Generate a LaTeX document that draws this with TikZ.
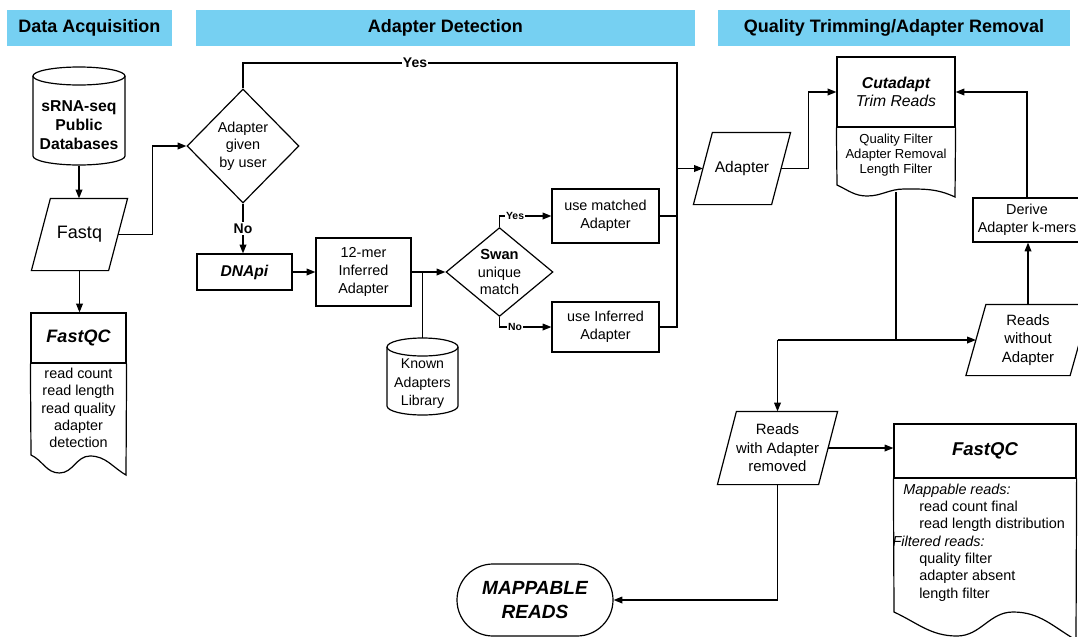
\documentclass[tikz,border=0pt]{standalone}
\usepackage{fontspec}
\setmainfont{Liberation Sans}
\usetikzlibrary{shapes.geometric,arrows.meta,calc}
\definecolor{hdrblue}{RGB}{118,208,242}
\newcommand{\myfs}[2]{\fontsize{#1}{#2}\selectfont}
\newcommand{\paraout}[2]{\draw ($(#1.north west)+(#2,0)$) -- ($(#1.north east)+(#2,0)$) -- ($(#1.south east)+(-#2,0)$) -- ($(#1.south west)+(-#2,0)$) -- cycle;}
\begin{document}
\begin{tikzpicture}[x=0.75pt,y=-0.75pt,line width=0.9pt,
 arr/.style={-{Triangle[length=6.5pt,width=5pt]}},
 hdr/.style={fill=hdrblue,inner sep=0,minimum height=27pt,font=\myfs{13.5}{16}\bfseries},
 proc/.style={draw,rectangle,inner sep=0,align=center,font=\myfs{10.8}{13.2}},
 decis/.style={draw,diamond,inner sep=0,align=center,font=\myfs{10.8}{13.2}},
 para/.style={rectangle,inner sep=0,align=center,font=\myfs{10.8}{13.9}},
 txt/.style={inner sep=0,align=center,font=\myfs{10.8}{13}},
 lbl/.style={fill=white,inner sep=1pt,font=\myfs{10.5}{12}\bfseries},
 slbl/.style={fill=white,inner sep=0.6pt,font=\myfs{7.8}{9}\bfseries}]
\useasboundingbox (0,0) rectangle (1078,636);
\clip (0,0) rectangle (1078,636);

% headers
\node[hdr,minimum width=123.75pt] (h1) at (89.5,28) {Data Acquisition};
\node[hdr,minimum width=374.25pt] (h2) at (445.5,28) {Adapter Detection};
\node[hdr,minimum width=264pt] (h3) at (894,28) {Quality Trimming/Adapter Removal};

% database cylinder
\node[txt,minimum width=69pt,minimum height=60pt,font=\myfs{11.8}{14.25}\bfseries] (db) at (79,125) {sRNA-seq\\Public\\Databases};
\draw (33,76) -- (33,156) arc[start angle=180,end angle=360,x radius=34.5pt,y radius=6.75pt] -- (125,76);
\draw (79,76) ellipse[x radius=34.5pt,y radius=6.75pt];

% Fastq
\node[para,minimum width=57pt,minimum height=53.25pt,font=\myfs{13.5}{16}] (fq) at (79.5,234.5) {Fastq};
\paraout{fq}{9.5}

% FastQC left
\node[proc,minimum width=71.25pt,minimum height=37.5pt,font=\myfs{13.5}{16}\bfseries\itshape] (qc1) at (78.5,338) {FastQC};
\draw (qc1.south west) -- (31,455) to[out=-25,in=180] (59.5,473) to[out=0,in=180] (90,456) to[out=0,in=150] (126,475) -- (qc1.south east);
\node[txt] (qc1l) at (78.5,408) {read count\\read length\\read quality\\adapter\\detection};

% decision: adapter given
\node[decis,minimum width=84pt,minimum height=85.5pt] (given) at (243,146) {Adapter\\given\\by user};

% DNApi and 12-mer
\node[proc,minimum width=71.25pt,minimum height=27pt,font=\myfs{11.7}{14}\bfseries\itshape] (dnapi) at (244.5,272) {DNApi};
\node[proc,minimum width=71.25pt,minimum height=51pt] (mer) at (363.5,272) {12-mer\\Inferred\\Adapter};

% Swan
\node[decis,minimum width=80.25pt,minimum height=66pt] (swan) at (499.5,272) {{\myfs{11}{13.2}\bfseries Swan}\\unique\\match};

% matched / inferred
\node[proc,minimum width=80.25pt,minimum height=40.5pt] (match) at (605.5,216) {use matched\\Adapter};
\node[proc,minimum width=80.25pt,minimum height=37.5pt] (infer) at (605.5,327) {use Inferred\\Adapter};

% Known adapters cylinder
\node[txt,minimum width=53.25pt,minimum height=44.25pt,font=\myfs{10.6}{13.9}] (known) at (422.5,384) {Known\\Adapters\\Library};
\draw (387,347) -- (387,406) arc[start angle=180,end angle=360,x radius=26.625pt,y radius=6.75pt] -- (458,347);
\draw (422.5,347) ellipse[x radius=26.625pt,y radius=6.75pt];
\coordinate (kntop) at (422.5,338);

% Adapter
\node[para,minimum width=57.75pt,minimum height=53.25pt,font=\myfs{11.6}{14}] (adp) at (742,168.5) {Adapter};
\paraout{adp}{9.5}

% Cutadapt
\node[proc,minimum width=88.5pt,minimum height=52.5pt,font=\myfs{11.8}{13.5}\itshape] (cut) at (896,92) {\textbf{Cutadapt}\\Trim Reads};
\draw (cut.south west) -- (837,185) to[out=-25,in=180] (867,196) to[out=0,in=180] (904,189) to[out=0,in=155] (955,197) -- (cut.south east);
\node[txt,font=\myfs{9.8}{11.25}] (cutl) at (896,155) {Quality Filter\\Adapter Removal\\Length Filter};
\coordinate (cutb) at (896,192);

% Derive
\node[proc,minimum width=81pt,minimum height=33pt] (der) at (1027,220) {Derive\\Adapter k-mers};

% Reads without adapter
\node[para,minimum width=77.25pt,minimum height=52.5pt,font=\myfs{11.2}{13.9}] (rwo) at (1028,340) {Reads\\without\\Adapter};
\paraout{rwo}{10}

% Reads with adapter removed
\node[para,minimum width=75pt,minimum height=54pt,font=\myfs{11.2}{13.9}] (rrm) at (777.5,448) {Reads\\with Adapter\\removed};
\paraout{rrm}{9.5}

% FastQC right
\node[proc,minimum width=136.5pt,minimum height=40.5pt,font=\myfs{13.9}{16}\bfseries\itshape] (qc2) at (985,451) {FastQC};
\draw (qc2.south west) -- (894,612) to[out=-25,in=180] (957,636) to[out=0,in=180] (1013,612) to[out=0,in=150] (1076,640) -- (qc2.south east);
\node[txt,align=left,anchor=north west] (qc2l) at (892,483) {\hspace*{8pt}\textit{Mappable reads:}\\\hspace*{20pt}read count final\\\hspace*{20pt}read length distribution\\\textit{Filtered reads:}\\\hspace*{20pt}quality filter\\\hspace*{20pt}adapter absent\\\hspace*{20pt}length filter};

% Terminator
\node[draw,rectangle,rounded corners=27pt,minimum width=117pt,minimum height=54pt,inner sep=0,align=center,font=\myfs{14.3}{18}\bfseries\itshape] (map) at (535,600) {MAPPABLE\\READS};

% connectors
\draw[arr] (db.south) -- (db.south |- fq.north);
\draw[arr] (fq.east) -- ++(34,0) |- (given.west);
\draw[arr] (fq.south) -- (fq.south |- qc1.north);
\coordinate (jt) at (677,63);
\draw (given.north) |- (jt) -- (jt |- infer.east) -- (infer.east);
\draw (match.east) -- (match.east -| jt);
\draw[arr] (jt |- adp.west) -- (adp.west);
\node[lbl] (yes1) at (415,63) {Yes};
\draw[arr] (given.south) -- node[lbl]{No} (given.south |- dnapi.north);
\draw[arr] (dnapi.east) -- (mer.west);
\draw[arr] (mer.east) -- (swan.west);
\draw (mer.east -| kntop) -- (kntop);
\draw[arr] (swan.north) |- node[slbl,pos=0.65]{Yes} (match.west);
\draw[arr] (swan.south) |- node[slbl,pos=0.65]{No} (infer.west);
\draw[arr] (adp.east) -- ++(27,0) |- (cut.west);
\draw (cutb) -- (cutb |- rwo.west);
\draw[arr] (rrm.north |- rwo.west) -- (rwo.west);
\draw[arr] (rrm.north |- rwo.west) -- (rrm.north);
\draw[arr] (rwo.north) -- (rwo.north |- der.south);
\draw[arr] (der.north) |- (cut.east);
\draw[arr] (rrm.east) -- (rrm.east -| qc2.west);
\draw[arr] (rrm.south) |- (map.east);
\end{tikzpicture}
\end{document}
